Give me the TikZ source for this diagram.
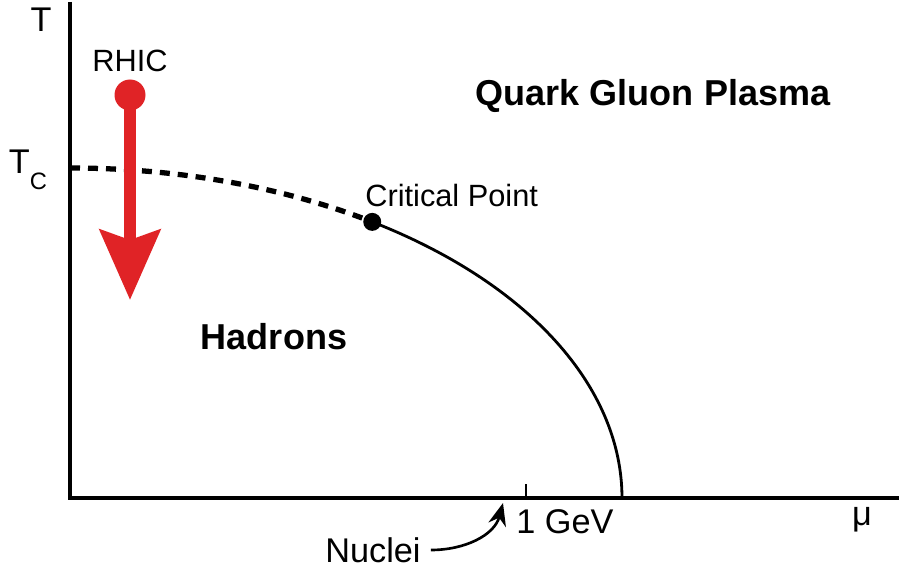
\documentclass[tikz,border=0pt]{standalone}
\usepackage{fontspec}
\setmainfont{Liberation Sans}
\usepackage{tikz}
\usetikzlibrary{arrows.meta,positioning}
\definecolor{rhicred}{RGB}{224,35,38}

\begin{document}
\begin{tikzpicture}[
  lbl/.style={inner sep=0pt, font=\fontsize{19.5}{20}\selectfont},
  small/.style={inner sep=0pt, font=\fontsize{17.5}{18}\selectfont},
  phase/.style={inner sep=0pt, font=\fontsize{20.5}{22}\selectfont\bfseries},
  axis/.style={line width=2.2pt},
  arr/.style={-{Stealth[length=4.5mm, width=3.6mm]}, line width=1.5pt}
]
\useasboundingbox (-1.4,-1.58) rectangle (16.58,9.96);
% axes
\coordinate (origin) at (0,0);
\coordinate (ytop) at (0,9.92);
\coordinate (xend) at (16.58,0);
\draw[axis] (ytop) -- (origin) -- (xend);
\coordinate (gev) at (9.12,0);
\draw[line width=1pt] (gev) -- ++(0,0.28);
% phase boundary: quarter ellipse
\coordinate (tc) at (0,6.6);
\draw[line width=3pt, dash pattern=on 0.2cm off 0.16cm] (tc) arc[start angle=90, end angle=56.8, x radius=11.04, y radius=6.6] coordinate (cp);
\draw[line width=1.6pt] (cp) arc[start angle=56.8, end angle=0, x radius=11.04, y radius=6.6];
\node[circle, fill=black, inner sep=0pt, minimum size=0.36cm] (cpdot) at (cp) {};
% RHIC trajectory
\node[circle, fill=rhicred, inner sep=0pt, minimum size=0.62cm] (rhic) at (1.2,8.06) {};
\coordinate (rhicend) at (1.2,3.96);
\draw[rhicred, line width=0.24cm, -{Stealth[length=1.4cm, width=1.2cm, inset=0.2cm]}] (rhic.center) -- (rhicend);
% labels
\node[lbl] (tlab) at (-0.58,9.56) {T};
\node[lbl] (tclab) at (-0.84,6.56) {T\raisebox{-0.45em}{\fontsize{13.5}{14}\selectfont C}};
\node[small, above=0.14cm of rhic] (rhiclab) {RHIC};
\node[phase] (qgp) at (11.66,8.04) {Quark Gluon Plasma};
\node[phase] (had) at (4.08,3.22) {Hadrons};
\node[small, anchor=south west] (cplab) at (5.9,5.82) {Critical Point};
\node[lbl] (gevlab) at (9.9,-0.48) {1 GeV};
\node[lbl] (mulab) at (15.84,-0.44) {μ};
\node[lbl] (nuclei) at (6.06,-1.04) {Nuclei};
\coordinate (nucltip) at (8.66,-0.1);
\draw[arr] ([xshift=0.2cm]nuclei.east) to[out=0, in=-105] (nucltip);
\end{tikzpicture}
\end{document}
